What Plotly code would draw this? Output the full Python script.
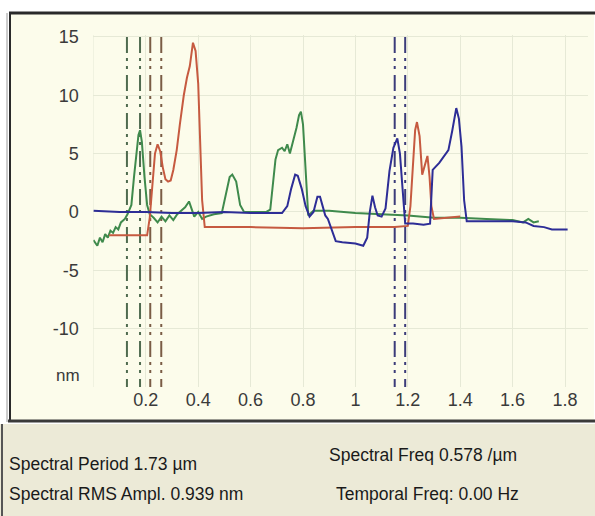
import plotly.graph_objects as go

# ---------------- data ----------------
green_x = [0.00, 0.015, 0.025, 0.035, 0.045, 0.055, 0.065, 0.075, 0.085, 0.095, 0.105, 0.12, 0.13,
           0.145, 0.155, 0.165, 0.172, 0.178, 0.185, 0.195, 0.205, 0.215, 0.23, 0.245, 0.26, 0.275,
           0.29, 0.305, 0.32, 0.335, 0.35, 0.365, 0.375, 0.385, 0.40, 0.415, 0.43, 0.46, 0.49, 0.505,
           0.52, 0.53, 0.545, 0.56, 0.575, 0.62, 0.66, 0.675, 0.685, 0.695, 0.705, 0.72, 0.73, 0.74,
           0.75, 0.765, 0.775, 0.785, 0.792, 0.80, 0.81, 0.82, 0.84, 0.90, 1.00, 1.10, 1.20, 1.30,
           1.40, 1.50, 1.60, 1.64, 1.66, 1.68, 1.70]
green_y = [-2.4, -2.9, -2.2, -2.6, -1.9, -2.2, -1.6, -1.8, -1.3, -1.5, -0.9, -0.6, -0.2,
           0.6, 3.0, 5.5, 6.6, 7.0, 6.0, 3.0, 0.6, -0.2, -0.5, -0.9, -0.4, -0.8, -0.3,
           -0.7, -0.2, 0.1, 0.4, 0.9, 0.3, -0.4, 0.0, -0.6, -0.4, -0.2, -0.1, 1.5,
           3.0, 3.2, 2.6, 0.6, 0.0, 0.0, 0.0, 0.2, 2.5, 4.5, 5.3, 5.5, 5.2, 5.8,
           5.0, 6.2, 7.2, 8.3, 8.6, 7.5, 3.5, -0.3, 0.1, 0.1, -0.1, -0.2, -0.3, -0.5,
           -0.5, -0.6, -0.7, -0.9, -0.6, -0.9, -0.8]

red_x = [0.06, 0.10, 0.15, 0.205, 0.215, 0.225, 0.235, 0.245, 0.255, 0.265, 0.275, 0.285, 0.295,
         0.305, 0.318, 0.33, 0.345, 0.357, 0.368, 0.38, 0.39, 0.40, 0.408, 0.415, 0.425, 0.45, 0.60,
         0.80, 1.00, 1.15, 1.20, 1.21, 1.22, 1.228, 1.235, 1.245, 1.255, 1.265, 1.275, 1.283,
         1.29, 1.30, 1.35, 1.40]
red_y = [-2.0, -2.0, -2.0, -2.0, -0.5, 2.5, 5.0, 5.8, 5.2, 3.8, 2.8, 2.6, 2.7,
         3.6, 5.3, 7.5, 10.0, 11.5, 12.5, 14.5, 13.8, 11.0, 6.0, 1.0, -1.3, -1.3, -1.3,
         -1.4, -1.3, -1.3, -1.2, 0.5, 4.5, 7.0, 7.7, 6.5, 3.2, 4.0, 4.8, 3.0,
         0.5, -0.6, -0.5, -0.4]

blue_x = [0.00, 0.10, 0.20, 0.30, 0.40, 0.50, 0.60, 0.68, 0.72, 0.74, 0.755, 0.77, 0.78, 0.795,
          0.81, 0.825, 0.84, 0.855, 0.865, 0.875, 0.885, 0.895, 0.91, 0.925, 0.95, 1.00, 1.03,
          1.045, 1.055, 1.065, 1.075, 1.085, 1.10, 1.115, 1.13, 1.145, 1.16, 1.17, 1.18, 1.19,
          1.22, 1.26, 1.285, 1.295, 1.32, 1.34, 1.355, 1.37, 1.385, 1.395, 1.405, 1.415, 1.425,
          1.50, 1.60, 1.65, 1.68, 1.72, 1.75, 1.81]
blue_y = [0.1, 0.0, 0.0, -0.1, -0.1, 0.0, -0.1, -0.1, -0.1, 0.5, 2.0, 3.2, 3.1, 2.0,
          0.5, -0.4, 0.0, 1.3, 1.3, 0.5, -0.3, -0.6, -1.5, -2.5, -2.6, -2.7, -2.9,
          -2.2, 0.0, 1.4, 0.4, -0.3, -0.4, 0.3, 3.5, 5.5, 6.3, 5.0, 2.0, -1.0,
          -1.0, -1.1, -1.0, 3.6, 4.2, 4.8, 5.3, 7.0, 8.9, 8.0, 5.6, 1.0, -0.8,
          -0.8, -0.8, -0.9, -1.2, -1.3, -1.5, -1.5]

cursor_x = [0.128, 0.178, 0.217, 0.259, 1.150, 1.190]
cursor_colors = ["#4f6b4f", "#4f6b4f", "#7a5c45", "#7a5c45", "#3c3c7a", "#3c3c7a"]

x_tickvals = [0.2, 0.4, 0.6, 0.8, 1.0, 1.2, 1.4, 1.6, 1.8]
x_ticktext = ["0.2", "0.4", "0.6", "0.8", "1", "1.2", "1.4", "1.6", "1.8"]
y_tickvals = [15, 10, 5, 0, -5, -10]
y_ticktext = ["15", "10", "5", "0", "-5", "-10"]
y_unit = "nm"

info_left = ["Spectral Period 1.73 µm", "Spectral RMS Ampl. 0.939 nm"]
info_right = ["Spectral Freq 0.578 /µm", "Temporal Freq: 0.00 Hz"]

# ---------------- figure ----------------
W, H = 595, 516
FONT = "Liberation Sans Narrow, Arial Narrow, Liberation Sans, sans-serif"

def px(x):
    return x / W

def py(y):
    return 1 - y / H

fig = go.Figure()

for cx, cc in zip(cursor_x, cursor_colors):
    fig.add_trace(go.Scatter(x=[cx, cx], y=[15, -15], mode="lines",
                             line=dict(color=cc, width=2, dash="16px,5px,3px,5px,3px,6px"),
                             hoverinfo="skip", showlegend=False))

fig.add_trace(go.Scatter(x=green_x, y=green_y, mode="lines",
                         line=dict(color="#3f8a4c", width=2), showlegend=False))
fig.add_trace(go.Scatter(x=red_x, y=red_y, mode="lines",
                         line=dict(color="#c65a40", width=2), showlegend=False))
fig.add_trace(go.Scatter(x=blue_x, y=blue_y, mode="lines",
                         line=dict(color="#2d2d96", width=2), showlegend=False))

plot_left, plot_right, plot_top, plot_bottom = 93.4, 588, 35, 387
fig.update_layout(
    width=W, height=H,
    margin=dict(l=0, r=0, t=0, b=0, pad=0),
    paper_bgcolor="white",
    plot_bgcolor="#fcfceb",
    xaxis=dict(domain=[px(plot_left), px(plot_right)],
               range=[0, (plot_right - plot_left) / 262.0],
               tickvals=x_tickvals, ticktext=x_ticktext,
               showgrid=True, gridcolor="#e6e9d6", gridwidth=1,
               zeroline=False, showline=False, automargin=False,
               ticks="", ticklen=0,
               tickfont=dict(family=FONT, size=18, color="#3a3a3a")),
    yaxis=dict(domain=[py(plot_bottom), py(plot_top)],
               range=[-15, -15 + (plot_bottom - plot_top) / 11.67],
               tickvals=y_tickvals, ticktext=y_ticktext,
               showgrid=True, gridcolor="#e6e9d6", gridwidth=1,
               zeroline=False, showline=False, automargin=False,
               ticks="outside", ticklen=10, tickcolor="rgba(0,0,0,0)",
               tickfont=dict(family=FONT, size=18, color="#3a3a3a")),
    font=dict(family=FONT),
)

shapes = [
    # cream chart panel
    dict(type="rect", xref="paper", yref="paper", x0=px(10), x1=px(594), y0=py(421), y1=py(13),
         fillcolor="#fcfceb", line=dict(width=0), layer="below"),
    # beige info panel
    dict(type="rect", xref="paper", yref="paper", x0=px(0), x1=px(595), y0=py(516), y1=py(424),
         fillcolor="#ecead7", line=dict(width=0), layer="below"),
    # gridline at plot left edge
    dict(type="line", xref="x", yref="paper", x0=0, x1=0, y0=py(plot_bottom), y1=py(plot_top),
         line=dict(color="#e6e9d6", width=1), layer="below"),
    # frame lines
    dict(type="line", xref="paper", yref="paper", x0=px(9), x1=px(595), y0=py(13), y1=py(13),
         line=dict(color="#2a2a2a", width=3)),
    dict(type="line", xref="paper", yref="paper", x0=px(10), x1=px(10), y0=py(13), y1=py(422),
         line=dict(color="#2a2a2a", width=2)),
    dict(type="line", xref="paper", yref="paper", x0=px(7), x1=px(7), y0=py(13), y1=py(422),
         line=dict(color="#9a9a9a", width=1)),
    dict(type="line", xref="paper", yref="paper", x0=px(8), x1=px(595), y0=py(421), y1=py(421),
         line=dict(color="#3a3a3a", width=3)),
    dict(type="line", xref="paper", yref="paper", x0=px(2), x1=px(2), y0=py(424), y1=py(516),
         line=dict(color="#555555", width=2)),
]
fig.update_layout(shapes=shapes)

annotations = [
    dict(text=y_unit, xref="paper", yref="paper", x=px(82), y=py(375), xanchor="right", yanchor="middle",
         showarrow=False, font=dict(family=FONT, size=17, color="#3a3a3a")),
    dict(text=info_left[0], xref="paper", yref="paper", x=px(7), y=py(464), xanchor="left", yanchor="middle",
         showarrow=False, font=dict(family=FONT, size=17.5, color="#1a1a1a")),
    dict(text=info_left[1], xref="paper", yref="paper", x=px(7), y=py(494), xanchor="left", yanchor="middle",
         showarrow=False, font=dict(family=FONT, size=17.5, color="#1a1a1a")),
    dict(text=info_right[0], xref="paper", yref="paper", x=px(327), y=py(455), xanchor="left", yanchor="middle",
         showarrow=False, font=dict(family=FONT, size=17.5, color="#1a1a1a")),
    dict(text=info_right[1], xref="paper", yref="paper", x=px(334), y=py(494), xanchor="left", yanchor="middle",
         showarrow=False, font=dict(family=FONT, size=17.5, color="#1a1a1a")),
]
fig.update_layout(annotations=annotations)

fig.write_html("out.html", config={"displayModeBar": False},
               post_script="document.body.style.margin='0px';")
